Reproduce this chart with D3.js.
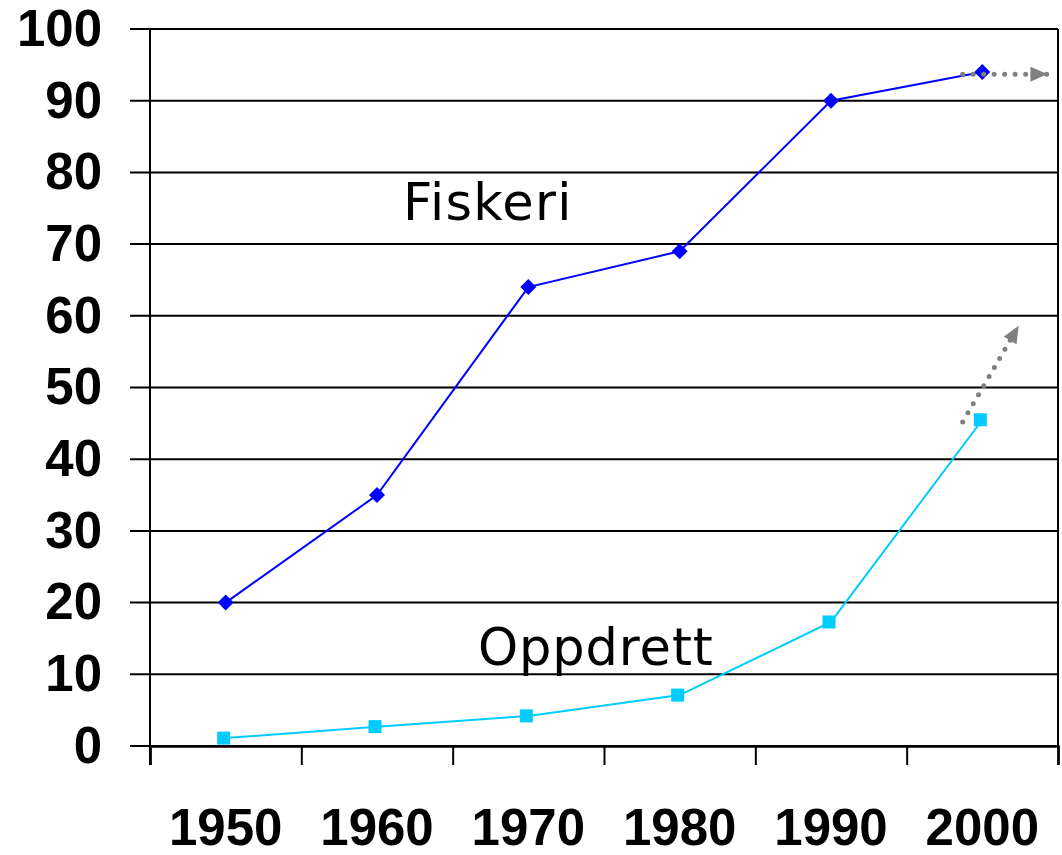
<!DOCTYPE html>
<html>
<head>
<meta charset="utf-8">
<script src="https://cdn.jsdelivr.net/npm/d3@7"></script>
<style>
  body { margin: 0; background: #fff; }
  svg { display: block; }
</style>
</head>
<body>
<div id="chart"></div>
<script>
// data
var years = ["1950", "1960", "1970", "1980", "1990", "2000"];
var fiskeri = [20, 35, 64, 69, 90, 94];
var oppdrett = [1.1, 2.7, 4.2, 7.1, 17.3, 45.5];
var yTicks = [0, 10, 20, 30, 40, 50, 60, 70, 80, 90, 100];
// trend arrows, x in category units (1950 centre = 0.5), y in chart units
var arrowFiskeri = [[5.37, 93.7], [5.93, 93.7]];
var arrowOppdrett = [[5.37, 45.2], [5.74, 58.6]];

var width = 1062, height = 855,
    margin = {left: 150, right: 4, top: 29, bottom: 109};

var svg = d3.select("#chart").append("svg")
  .attr("width", width)
  .attr("height", height);

var x = d3.scaleBand()
  .domain(years)
  .range([margin.left, width - margin.right]);

var xLin = d3.scaleLinear()
  .domain([0, years.length])
  .range([margin.left, width - margin.right]);

var y = d3.scaleLinear()
  .domain([0, 100])
  .range([height - margin.bottom, margin.top]);

var cx = function(i) { return x(years[i]) + x.bandwidth() / 2; };

var defs = svg.append("defs");
defs.append("marker")
  .attr("id", "arrowhead")
  .attr("viewBox", "0 0 17 15")
  .attr("refX", 17)
  .attr("refY", 7.5)
  .attr("markerWidth", 17)
  .attr("markerHeight", 15)
  .attr("markerUnits", "userSpaceOnUse")
  .attr("orient", "auto")
  .append("path")
  .attr("d", "M0,0 L17,7.5 L0,15 Z")
  .attr("fill", "#808080");

// grid lines (extend left past the axis like the ticks)
svg.append("g")
  .selectAll("line")
  .data(yTicks)
  .enter().append("line")
    .attr("x1", margin.left - 20)
    .attr("x2", width - margin.right)
    .attr("y1", function(d) { return y(d); })
    .attr("y2", function(d) { return y(d); })
    .attr("stroke", "#000")
    .attr("stroke-width", 2);

// y axis labels
var yAxis = svg.append("g")
  .attr("transform", "translate(" + margin.left + ",0)")
  .call(d3.axisLeft(y).tickValues(yTicks).tickSize(20).tickPadding(28));
yAxis.select(".domain").remove();
yAxis.selectAll("line").remove();
yAxis.selectAll("text")
  .attr("font-family", "'Liberation Sans', Arial, sans-serif")
  .attr("font-weight", "bold")
  .attr("font-size", 51)
  .attr("fill", "#000");

// left axis line and right border
svg.append("line")
  .attr("x1", margin.left).attr("x2", margin.left)
  .attr("y1", y(100)).attr("y2", y(0) + 19)
  .attr("stroke", "#000").attr("stroke-width", 2);

// bottom ticks at band edges
var xAxis = svg.append("g")
  .attr("transform", "translate(0," + y(0) + ")")
  .call(d3.axisBottom(xLin).tickValues(d3.range(years.length + 1)).tickSize(19).tickFormat(""));
xAxis.select(".domain").attr("stroke-width", 2.5);
xAxis.selectAll("line").attr("stroke-width", 2);

svg.append("line")
  .attr("x1", width - margin.right).attr("x2", width - margin.right)
  .attr("y1", y(100)).attr("y2", y(0))
  .attr("stroke", "#000").attr("stroke-width", 2);

// year labels
svg.append("g")
  .selectAll("text")
  .data(years)
  .enter().append("text")
    .attr("x", function(d, i) { return cx(i); })
    .attr("y", 845)
    .attr("text-anchor", "middle")
    .attr("font-family", "'Liberation Sans', Arial, sans-serif")
    .attr("font-weight", "bold")
    .attr("font-size", 51)
    .text(function(d) { return d; });

// series lines
var line = d3.line()
  .x(function(d, i) { return cx(i); })
  .y(function(d) { return y(d); });

svg.append("path")
  .datum(fiskeri)
  .attr("d", line)
  .attr("fill", "none")
  .attr("stroke", "#0000FF")
  .attr("stroke-width", 2);

svg.append("path")
  .datum(oppdrett)
  .attr("d", line)
  .attr("fill", "none")
  .attr("stroke", "#00CCFF")
  .attr("stroke-width", 2);

// markers
svg.append("g")
  .selectAll("path")
  .data(fiskeri)
  .enter().append("path")
    .attr("d", "M0,-8 L8,0 L0,8 L-8,0 Z")
    .attr("transform", function(d, i) { return "translate(" + cx(i) + "," + y(d) + ")"; })
    .attr("fill", "#0000FF");

svg.append("g")
  .selectAll("rect")
  .data(oppdrett)
  .enter().append("rect")
    .attr("x", function(d, i) { return cx(i) - 8.5; })
    .attr("y", function(d) { return y(d) - 6.5; })
    .attr("width", 13)
    .attr("height", 13)
    .attr("fill", "#00CCFF");

// dotted trend arrows
var arrowLine = d3.line()
  .x(function(d) { return xLin(d[0]); })
  .y(function(d) { return y(d[1]); });

[arrowFiskeri, arrowOppdrett].forEach(function(a) {
  svg.append("path")
    .datum(a)
    .attr("d", arrowLine)
    .attr("fill", "none")
    .attr("stroke", "#808080")
    .attr("stroke-width", 5)
    .attr("stroke-linecap", "round")
    .attr("stroke-dasharray", "0 10.5")
    .attr("marker-end", "url(#arrowhead)");
});

// series labels
svg.append("text")
  .attr("x", 403)
  .attr("y", 220)
  .attr("font-family", "'DejaVu Sans', Verdana, sans-serif")
  .attr("font-size", 51)
  .attr("letter-spacing", 1.3)
  .text("Fiskeri");

svg.append("text")
  .attr("x", 478)
  .attr("y", 665)
  .attr("font-family", "'DejaVu Sans', Verdana, sans-serif")
  .attr("font-size", 51)
  .attr("letter-spacing", 0.9)
  .text("Oppdrett");
</script>
</body>
</html>
